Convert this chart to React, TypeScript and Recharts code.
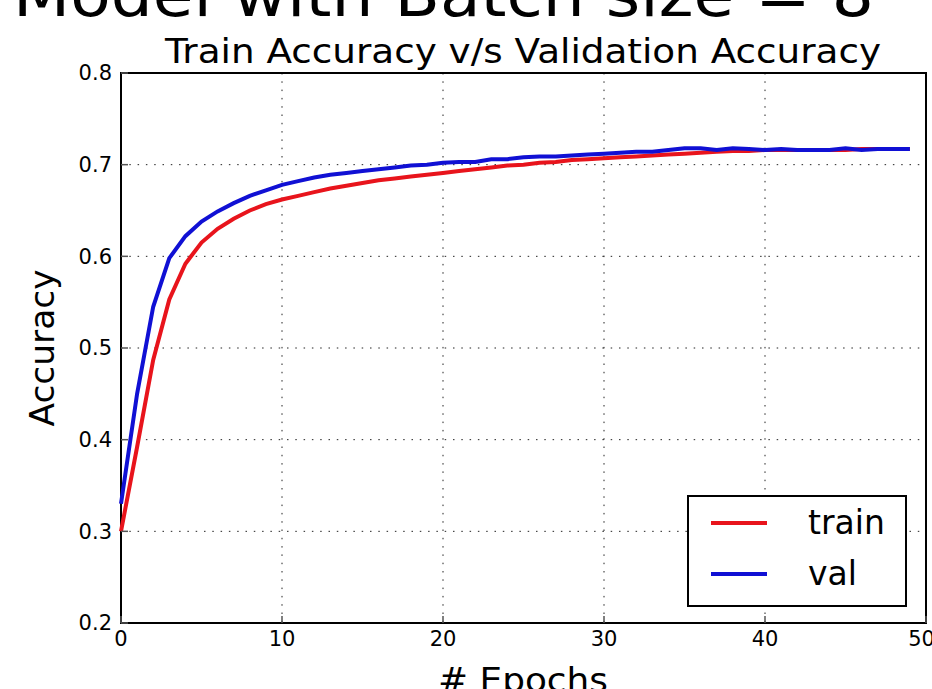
import { LineChart, Line, XAxis, YAxis, CartesianGrid, Legend, ReferenceArea } from 'recharts';

const epochs = [
  0, 1, 2, 3, 4, 5, 6, 7, 8, 9,
  10, 11, 12, 13, 14, 15, 16, 17, 18, 19,
  20, 21, 22, 23, 24, 25, 26, 27, 28, 29,
  30, 31, 32, 33, 34, 35, 36, 37, 38, 39,
  40, 41, 42, 43, 44, 45, 46, 47, 48, 49,
];

const trainAcc = [
  0.300, 0.392, 0.487, 0.553, 0.592, 0.615, 0.630, 0.641, 0.650, 0.657,
  0.662, 0.666, 0.670, 0.674, 0.677, 0.680, 0.683, 0.685, 0.687, 0.689,
  0.691, 0.693, 0.695, 0.697, 0.699, 0.700, 0.702, 0.703, 0.705, 0.706,
  0.707, 0.708, 0.709, 0.710, 0.711, 0.712, 0.713, 0.714, 0.715, 0.715,
  0.716, 0.716, 0.716, 0.716, 0.716, 0.716, 0.717, 0.717, 0.717, 0.717,
];

const valAcc = [
  0.330, 0.450, 0.545, 0.598, 0.622, 0.638, 0.649, 0.658, 0.666, 0.672,
  0.678, 0.682, 0.686, 0.689, 0.691, 0.693, 0.695, 0.697, 0.699, 0.700,
  0.702, 0.703, 0.703, 0.706, 0.706, 0.708, 0.709, 0.709, 0.710, 0.711,
  0.712, 0.713, 0.714, 0.714, 0.716, 0.718, 0.718, 0.716, 0.718, 0.717,
  0.716, 0.717, 0.716, 0.716, 0.716, 0.718, 0.716, 0.717, 0.717, 0.717,
];

const xTicks = [0, 10, 20, 30, 40, 50];
const yTicks = [0.2, 0.3, 0.4, 0.5, 0.6, 0.7, 0.8];

const RED = '#e8141c';
const BLUE = '#1010d4';
const FONT = '"DejaVu Sans", sans-serif';

const data = epochs.map((e, i) => ({ epoch: e, train: trainAcc[i], val: valAcc[i] }));

// matplotlib-style boxed legend
function LegendBox() {
  const row = (color: string, label: string, top: number) => (
    <div style={{ position: 'absolute', left: 0, top, width: '100%', height: 40 }}>
      <div style={{ position: 'absolute', left: 22, top: 18, width: 56, height: 4, background: color }} />
      <span style={{ position: 'absolute', left: 119, top: 0, fontSize: 33, lineHeight: '40px', color: '#000' }}>
        {label}
      </span>
    </div>
  );
  return (
    <div
      style={{
        position: 'relative',
        width: 220,
        height: 112,
        boxSizing: 'border-box',
        border: '2px solid #000',
        background: '#fff',
        fontFamily: FONT,
      }}
    >
      {row(RED, 'train', 6)}
      {row(BLUE, 'val', 57)}
    </div>
  );
}

export default function App() {
  return (
    <div style={{ position: 'absolute', left: 0, top: 0, width: 932, height: 689, background: '#fff', overflow: 'hidden' }}>
      <LineChart
        width={932}
        height={689}
        data={data}
        margin={{ top: 73, right: 6, bottom: 36, left: 61 }}
        style={{ fontFamily: FONT }}
      >
        <CartesianGrid stroke="#222" strokeWidth={1} strokeDasharray="1.5 6.8" />
        <XAxis
          dataKey="epoch"
          type="number"
          domain={[0, 50]}
          ticks={xTicks}
          height={30}
          axisLine={false}
          tickSize={-7}
          tickMargin={15}
          tickLine={{ stroke: '#555', strokeWidth: 1.5 }}
          tick={{ fill: '#000', fontSize: 21 }}
        />
        <XAxis
          xAxisId="top"
          orientation="top"
          dataKey="epoch"
          type="number"
          domain={[0, 50]}
          ticks={xTicks}
          height={0}
          axisLine={false}
          tickSize={-7}
          tickLine={{ stroke: '#555', strokeWidth: 1.5 }}
          tick={false}
        />
        <YAxis
          type="number"
          domain={[0.2, 0.8]}
          ticks={yTicks}
          width={60}
          axisLine={false}
          tickSize={-7}
          tickMargin={16}
          tickLine={{ stroke: '#555', strokeWidth: 1.5 }}
          tick={{ fill: '#000', fontSize: 21 }}
          tickFormatter={(v: number) => v.toFixed(1)}
        />
        <YAxis
          yAxisId="right"
          orientation="right"
          type="number"
          domain={[0.2, 0.8]}
          ticks={yTicks}
          width={0}
          axisLine={false}
          tickSize={-7}
          tickLine={{ stroke: '#555', strokeWidth: 1.5 }}
          tick={false}
        />
        <ReferenceArea x1={0} x2={50} y1={0.2} y2={0.8} fill="none" stroke="#000" strokeWidth={2} fillOpacity={0} />
        <Line
          type="linear"
          dataKey="train"
          name="train"
          stroke={RED}
          strokeWidth={4}
          dot={false}
          isAnimationActive={false}
        />
        <Line
          type="linear"
          dataKey="val"
          name="val"
          stroke={BLUE}
          strokeWidth={4}
          dot={false}
          isAnimationActive={false}
        />
        <Legend
          layout="horizontal"
          verticalAlign="middle"
          align="center"
          content={() => <LegendBox />}
          wrapperStyle={{ position: 'absolute', left: 687, top: 495, width: 220, height: 112 }}
        />
      </LineChart>
      <svg
        width={932}
        height={689}
        style={{ position: 'absolute', left: 0, top: 0, pointerEvents: 'none', fontFamily: FONT }}
      >
        <text x={13} y={16} fontSize={60} textLength={861} lengthAdjust="spacingAndGlyphs" fill="#000">
          Model with Batch size = 8
        </text>
        <text x={165} y={63} fontSize={34} textLength={716} lengthAdjust="spacingAndGlyphs" fill="#000">
          Train Accuracy v/s Validation Accuracy
        </text>
        <text
          x={0}
          y={0}
          fontSize={33}
          textLength={157}
          lengthAdjust="spacingAndGlyphs"
          textAnchor="middle"
          fill="#000"
          transform="translate(54 348) rotate(-90)"
        >
          Accuracy
        </text>
        <text x={438} y={692} fontSize={34} textLength={170} lengthAdjust="spacingAndGlyphs" fill="#000">
          # Epochs
        </text>
      </svg>
    </div>
  );
}
